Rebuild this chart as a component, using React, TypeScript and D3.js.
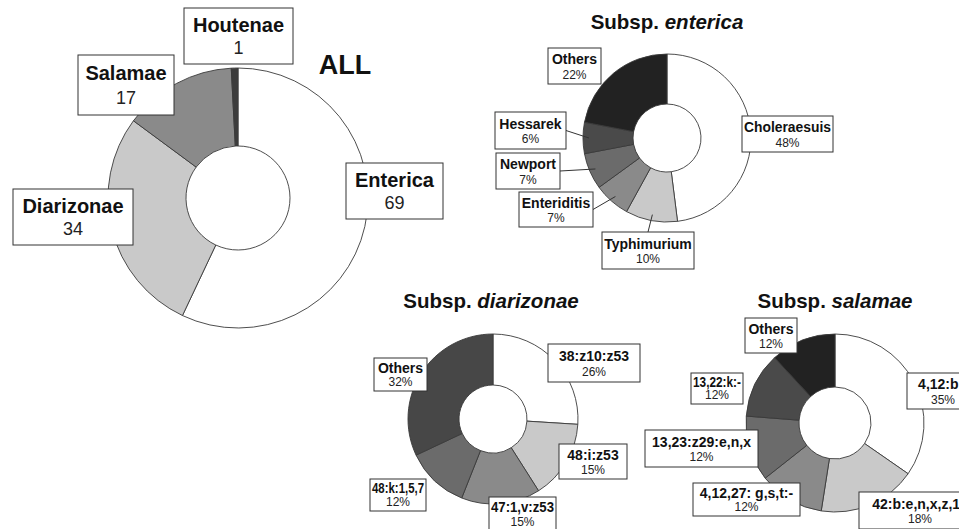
import React, {useEffect, useRef} from "react";
import * as d3 from "d3";

// values
const allNames = ["Enterica", "Diarizonae", "Salamae", "Houtenae"];
const allCounts = [69, 34, 17, 1];

const entericaNames = ["Choleraesuis", "Typhimurium", "Enteriditis", "Newport", "Hessarek", "Others"];
const entericaPct = [48, 10, 7, 7, 6, 22];

const diarizonaeNames = ["38:z10:z53", "48:i:z53", "47:1,v:z53", "48:k:1,5,7", "Others"];
const diarizonaePct = [26, 15, 15, 12, 32];

const salamaeNames = ["4,12:b:-", "42:b:e,n,x,z,15", "4,12,27: g,s,t:-", "13,23:z29:e,n,x", "13,22:k:-", "Others"];
const salamaePct = [35, 18, 12, 12, 12, 12];

// fills, slice by slice
const allFills = ["#ffffff", "#c9c9c9", "#8a8a8a", "#3c3c3c"];
const entericaFills = ["#ffffff", "#c9c9c9", "#8a8a8a", "#6b6b6b", "#4a4a4a", "#222222"];
const diarizonaeFills = ["#ffffff", "#c9c9c9", "#8a8a8a", "#6b6b6b", "#474747"];
const salamaeFills = ["#ffffff", "#c9c9c9", "#8a8a8a", "#6b6b6b", "#4a4a4a", "#222222"];

const FONT = "'Liberation Sans', Arial, Helvetica, sans-serif";

// label boxes [x, y, w, h] and leader anchor ("" = no leader)
type Box = [number, number, number, number, string];

const charts = [
    {
        key: "all", names: allNames, values: allCounts, fills: allFills,
        cx: 238, cy: 198, r: 130, r0: 52,
        fmt: (v: number) => String(v), big: true,
        boxes: [
            [346, 163, 97, 56, ""], [13, 189, 120, 56, ""], [78, 55, 96, 60, ""], [184, 8, 109, 56, ""],
        ] as Box[],
    },
    {
        key: "enterica", names: entericaNames, values: entericaPct, fills: entericaFills,
        cx: 667, cy: 138, r: 84, r0: 34,
        fmt: (v: number) => v + "%", big: false,
        boxes: [
            [742, 116, 91, 36, ""], [602, 232, 92, 37, "top"], [519, 192, 74, 35, "right"],
            [496, 153, 64, 36, "right"], [495, 112, 71, 37, "right"], [548, 48, 53, 36, ""],
        ] as Box[],
    },
    {
        key: "diarizonae", names: diarizonaeNames, values: diarizonaePct, fills: diarizonaeFills,
        cx: 493, cy: 419, r: 85, r0: 34,
        fmt: (v: number) => v + "%", big: false,
        boxes: [
            [548, 344, 92, 38, ""], [559, 444, 68, 35, ""], [489, 497, 67, 34, ""],
            [370, 479, 56, 32, ""], [374, 358, 53, 33, ""],
        ] as Box[],
    },
    {
        key: "salamae", names: salamaeNames, values: salamaePct, fills: salamaeFills,
        cx: 835, cy: 423, r: 89, r0: 36,
        fmt: (v: number) => v + "%", big: false,
        boxes: [
            [907, 373, 72, 36, ""], [859, 492, 122, 37, ""], [693, 483, 107, 33, ""],
            [645, 430, 113, 37, ""], [691, 373, 52, 31, ""], [745, 318, 52, 35, ""],
        ] as Box[],
    },
];

const titles = [
    {plain: "Subsp. ", ital: "enterica", x: 667, y: 29},
    {plain: "Subsp. ", ital: "diarizonae", x: 491, y: 308},
    {plain: "Subsp. ", ital: "salamae", x: 835, y: 308},
];

const App = () => {
    const svgRef = useRef<SVGSVGElement>(null);

    // squeeze label text that would spill out of its box
    useEffect(() => {
        const svg = d3.select(svgRef.current);
        svg.selectAll<SVGTextElement, unknown>("text.fit").each(function () {
            const maxW = +(this.getAttribute("data-max") || 0);
            const w = this.getComputedTextLength();
            if (maxW && w > maxW) {
                this.setAttribute("textLength", String(maxW));
                this.setAttribute("lengthAdjust", "spacingAndGlyphs");
            }
        });
    }, []);

    return (
        <svg ref={svgRef} width={959} height={529}
             style={{position: "absolute", left: 0, top: 0, background: "#fff", overflow: "hidden"}}
             fontFamily={FONT}>
            {charts.map(c => {
                const arcs = d3.pie<number>().sort(null).value(d => d)(c.values);
                const arcGen = d3.arc<d3.PieArcDatum<number>>().innerRadius(c.r0).outerRadius(c.r);
                const leaderArc = d3.arc<d3.PieArcDatum<number>>().innerRadius(c.r - 6).outerRadius(c.r - 6);
                return (
                    <g key={c.key}>
                        <g transform={`translate(${c.cx},${c.cy})`}>
                            {arcs.map((a, i) => (
                                <path key={i} d={arcGen(a) || ""} fill={c.fills[i]} stroke="#3a3a3a" strokeWidth={0.9}/>
                            ))}
                        </g>
                        {arcs.map((a, i) => {
                            const b = c.boxes[i];
                            if (!b[4]) return null;
                            const [px, py] = leaderArc.centroid(a);
                            const sx = b[4] === "top" ? b[0] + b[2] / 2 : b[0] + b[2];
                            const sy = b[4] === "top" ? b[1] : b[1] + b[3] / 2;
                            return <line key={"l" + i} x1={sx} y1={sy} x2={c.cx + px} y2={c.cy + py}
                                         stroke="#333" strokeWidth={1}/>;
                        })}
                        {c.names.map((n, i) => {
                            const [x, y, w, h] = c.boxes[i];
                            const tx = x + w / 2;
                            return (
                                <g key={"b" + i}>
                                    <rect x={x} y={y} width={w} height={h} fill="#fff" stroke="#333" strokeWidth={1}/>
                                    <text className="fit" data-max={w - 4} x={tx} y={c.big ? y + h * 0.42 : y + h * 0.45}
                                          textAnchor="middle" fontWeight="bold" fontSize={c.big ? 20 : 14} fill="#111">{n}</text>
                                    <text x={tx} y={c.big ? y + h * 0.82 : y + h * 0.85}
                                          textAnchor="middle" fontSize={c.big ? 18 : 12} fill="#222">{c.fmt(c.values[i])}</text>
                                </g>
                            );
                        })}
                    </g>
                );
            })}
            <text x={345} y={74} textAnchor="middle" fontWeight="bold" fontSize={27} fill="#111">ALL</text>
            {titles.map(t => (
                <text key={t.ital} x={t.x} y={t.y} textAnchor="middle" fontWeight="bold" fontSize={20.5} fill="#111">
                    {t.plain}<tspan fontStyle="italic">{t.ital}</tspan>
                </text>
            ))}
        </svg>
    );
};

export default App;
